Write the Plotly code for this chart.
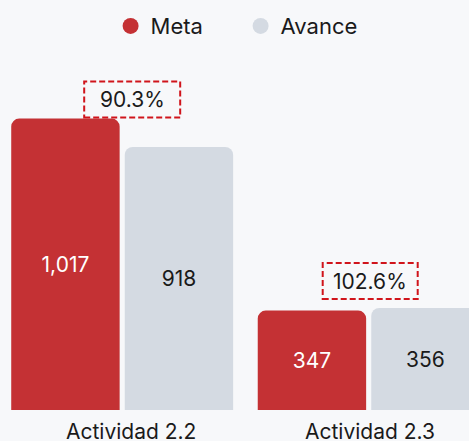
import plotly.graph_objects as go

categories = ["Actividad 2.2", "Actividad 2.3"]
meta = [1017, 347]
avance = [918, 356]
pct_labels = ["90.3%", "102.6%"]
value_labels_meta = ["1,017", "347"]
value_labels_avance = ["918", "356"]

RED = "#C43134"
GRAY = "#D4DAE2"
BG = "#F7F8FA"
TXT = "#1A1A1A"
FONT = "Inter"

fig = go.Figure()
fig.add_trace(go.Bar(
    x=categories, y=meta, name="Meta", marker=dict(color=RED, cornerradius=8, line=dict(width=0)),
    text=value_labels_meta, textposition="inside", insidetextanchor="middle",
    textfont=dict(color="white", size=21, family=FONT), showlegend=False,
))
fig.add_trace(go.Bar(
    x=categories, y=avance, name="Avance", marker=dict(color=GRAY, cornerradius=8, line=dict(width=0)),
    text=value_labels_avance, textposition="inside", insidetextanchor="middle",
    textfont=dict(color=TXT, size=21, family=FONT), showlegend=False,
))
# legend entries with circle markers
fig.add_trace(go.Scatter(x=[None], y=[None], mode="markers", name="Meta",
                         marker=dict(color=RED, size=22, symbol="circle")))
fig.add_trace(go.Scatter(x=[None], y=[None], mode="markers", name="Avance",
                         marker=dict(color=GRAY, size=22, symbol="circle")))

# percentage boxes (pixel offsets relative to category / max value)
box_offsets = [dict(x0=-38, x1=58, y0=1, y1=37), dict(x0=-46, x1=49, y0=9, y1=45)]
for i, cat in enumerate(categories):
    top = max(meta[i], avance[i])
    o = box_offsets[i]
    fig.add_shape(type="rect", xref="x", yref="y", xsizemode="pixel", ysizemode="pixel",
                  xanchor=i, yanchor=top, x0=o["x0"], x1=o["x1"], y0=o["y0"], y1=o["y1"],
                  line=dict(color="#D0141B", width=2, dash="6px,3px"), fillcolor="rgba(0,0,0,0)")
    fig.add_annotation(x=i, y=top, xref="x", yref="y", text=pct_labels[i], showarrow=False,
                       xshift=(o["x0"] + o["x1"]) / 2, yshift=(o["y0"] + o["y1"]) / 2,
                       font=dict(size=21, color=TXT, family=FONT))

# category labels below the bars
label_xshift = [9, 1]
for i, cat in enumerate(categories):
    fig.add_annotation(x=i, y=0, xref="x", yref="paper", text=cat, showarrow=False,
                       yanchor="top", xanchor="center", xshift=label_xshift[i], yshift=-7,
                       font=dict(size=21, color=TXT, family=FONT))

fig.update_layout(
    width=469, height=441,
    paper_bgcolor=BG, plot_bgcolor=BG,
    margin=dict(l=0, r=0, t=0, b=31),
    barmode="group", bargap=0.079, bargroupgap=0.045,
    font=dict(family=FONT, color=TXT, size=21),
    legend=dict(orientation="h", x=0.513, xanchor="center", y=0.9364, yanchor="middle",
                font=dict(size=22, family=FONT, color=TXT), bgcolor="rgba(0,0,0,0)",
                itemsizing="trace", entrywidth=85, entrywidthmode="pixels"),
    showlegend=True,
)
fig.update_xaxes(range=[-0.4957, 1.4069], showgrid=False, zeroline=False, showline=False,
                 ticks="", showticklabels=False, fixedrange=True, automargin=False)
fig.update_yaxes(range=[0, 1431], visible=False, showgrid=False, zeroline=False, fixedrange=True)

fig.write_html("out.html",
               config={"displayModeBar": False},
               post_script="document.body.style.margin='0';"
                           "document.body.style.overflow='hidden';"
                           "document.body.style.backgroundColor='%s';"
                           "document.documentElement.style.backgroundColor='%s';" % (BG, BG))
